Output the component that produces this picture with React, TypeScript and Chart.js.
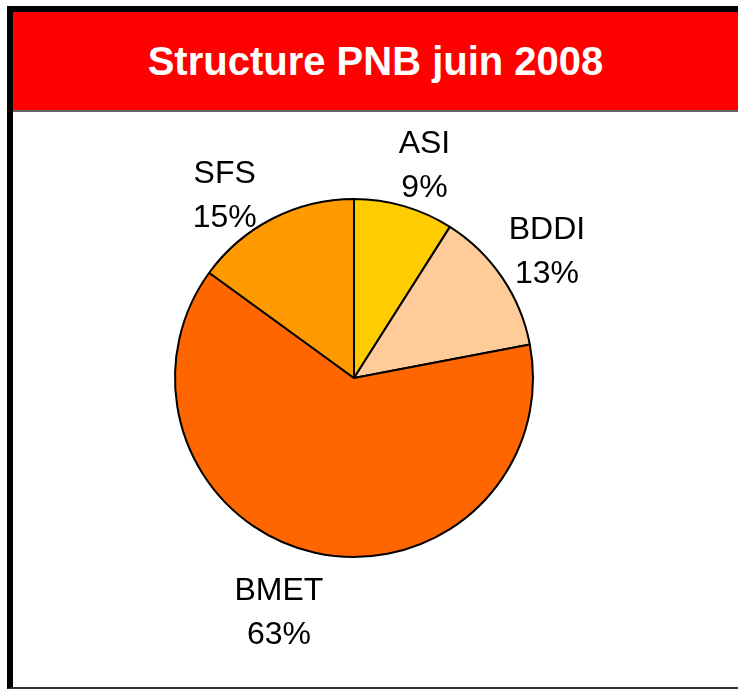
import React, { useEffect, useRef } from "react";
import { Chart, registerables } from "chart.js";

Chart.register(...registerables);

const TITLE = "Structure PNB juin 2008";
const CATEGORIES = ["ASI", "BDDI", "BMET", "SFS"];
const VALUES = [9, 13, 63, 15];
const COLORS = ["#FFCC00", "#FFCC99", "#FF6600", "#FF9900"];

// label layout: angular shift (deg) and radial factor relative to the outer radius
const LABEL_SHIFT = [2.2, 1.0, 5.1, -8.4];
const LABEL_RADIUS = [1.247, 1.288, 1.379, 1.247];

const FONT = '"Liberation Sans", Arial, sans-serif';

const labelPlugin = {
  id: "outsideLabels",
  afterDatasetsDraw(chart: any) {
    const ctx = chart.ctx;
    const meta = chart.getDatasetMeta(0);
    const total = VALUES.reduce((a, b) => a + b, 0);
    ctx.save();
    ctx.fillStyle = "#000";
    ctx.font = `32px ${FONT}`;
    ctx.textAlign = "center";
    ctx.textBaseline = "middle";
    meta.data.forEach((arc: any, i: number) => {
      const p = arc.getProps(["x", "y", "startAngle", "endAngle", "outerRadius"], true);
      const mid = (p.startAngle + p.endAngle) / 2 + (LABEL_SHIFT[i] * Math.PI) / 180;
      const r = p.outerRadius * LABEL_RADIUS[i];
      const cx = p.x + Math.cos(mid) * r;
      const cy = p.y + Math.sin(mid) * r;
      const pct = Math.round((VALUES[i] / total) * 100) + "%";
      ctx.fillText(CATEGORIES[i], cx, cy - 22);
      ctx.fillText(pct, cx, cy + 22);
    });
    ctx.restore();
  },
};

export default function App() {
  const ref = useRef<HTMLCanvasElement | null>(null);

  useEffect(() => {
    if (!ref.current) return;
    const chart = new Chart(ref.current, {
      type: "pie",
      data: {
        labels: CATEGORIES,
        datasets: [
          {
            data: VALUES,
            backgroundColor: COLORS,
            borderColor: "#000",
            borderWidth: 2,
          },
        ],
      },
      options: {
        responsive: false,
        animation: false,
        radius: 179,
        layout: { padding: { left: 0, right: 30, top: 67, bottom: 0 } },
        plugins: {
          legend: { display: false },
          title: { display: false },
          tooltip: { enabled: false },
        },
      } as any,
      plugins: [labelPlugin],
    });
    return () => chart.destroy();
  }, []);

  return (
    <div
      style={{
        position: "fixed",
        left: 0,
        top: 0,
        width: 738,
        height: 689,
        background: "#fff",
        overflow: "hidden",
      }}
    >
      <div
        style={{
          position: "absolute",
          left: 7,
          top: 6,
          width: 760,
          height: 675,
          borderLeft: "6px solid #000",
          borderTop: "6px solid #000",
          borderBottom: "2px solid #333",
          boxSizing: "content-box",
        }}
      >
        <div
          style={{
            height: 97,
            background: "#FF0000",
            borderBottom: "2px solid #666",
            width: 725,
            textAlign: "center",
            lineHeight: "97px",
            color: "#fff",
            fontFamily: FONT,
            fontWeight: "bold",
            fontSize: 40,
            paddingTop: 1,
            boxSizing: "content-box",
            whiteSpace: "nowrap",
          }}
        >
          {TITLE}
        </div>
      </div>
      <canvas
        ref={ref}
        width={738}
        height={689}
        style={{ position: "absolute", left: 0, top: 0, width: 738, height: 689 }}
      />
    </div>
  );
}
